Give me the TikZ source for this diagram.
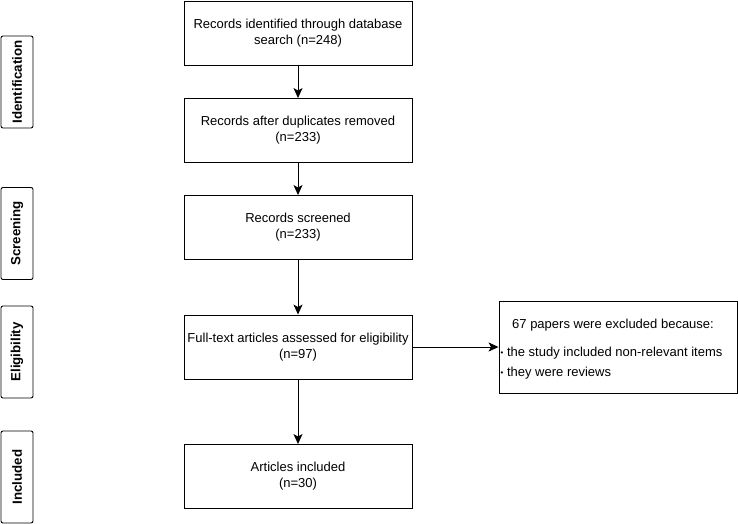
\documentclass[tikz,border=0pt]{standalone}
\usepackage{fontspec}
\setmainfont{Liberation Sans}
\usetikzlibrary{arrows.meta}
\begin{document}
\begin{tikzpicture}[x=1pt,y=-1pt,
  box/.style={draw, line width=0.9pt, minimum width=228pt, minimum height=64pt, align=center, font=\fontsize{13}{16}\selectfont, inner sep=0pt},
  phase/.style={draw, line width=0.9pt, rounded corners=2pt, minimum width=92pt, minimum height=32pt, rotate=90, font=\bfseries\fontsize{13.3}{15}\selectfont, inner sep=0pt},
  arr/.style={-{Stealth[length=10pt,width=9pt,inset=2.5pt]}, line width=0.9pt}]
\useasboundingbox (0,0) rectangle (738,524);
\node[box] (b1) at (298,33) {Records identified through database\\search (n=248)};
\node[box] (b2) at (298,130.5) {Records after duplicates removed\\(n=233)};
\node[box] (b3) at (298,227.5) {Records screened\\(n=233)};
\node[box] (b4) at (298,347) {Full-text articles assessed for eligibility\\(n=97)};
\node[box] (b5) at (298,476.5) {Articles included\\(n=30)};
\node[draw, line width=0.9pt, minimum width=238pt, minimum height=92pt, inner sep=0pt] (ex) at (618,347) {};
\node[anchor=west, font=\fontsize{13}{14}\selectfont, inner sep=0pt] (ext) at (512,325) {67 papers were excluded because:};
\node[anchor=west, font=\fontsize{13}{14}\selectfont, inner sep=0pt] (ex1) at (500.5,353) {\raisebox{0.15ex}{\scalebox{0.6}{•}} the study included non-relevant items};
\node[anchor=west, font=\fontsize{13}{14}\selectfont, inner sep=0pt] (ex2) at (500.5,373) {\raisebox{0.15ex}{\scalebox{0.6}{•}} they were reviews};
\node[phase] (p1) at (17,82) {Identification};
\node[phase] (p2) at (17,233.5) {Screening};
\node[phase] (p3) at (17,352) {Eligibility};
\node[phase] (p4) at (17,477) {Included};
\draw[arr] (b1) -- (b2);
\draw[arr] (b2) -- (b3);
\draw[arr] (b3) -- (b4);
\draw[arr] (b4) -- (b5);
\draw[arr] (b4.east) -- (ex.west);
\end{tikzpicture}
\end{document}
